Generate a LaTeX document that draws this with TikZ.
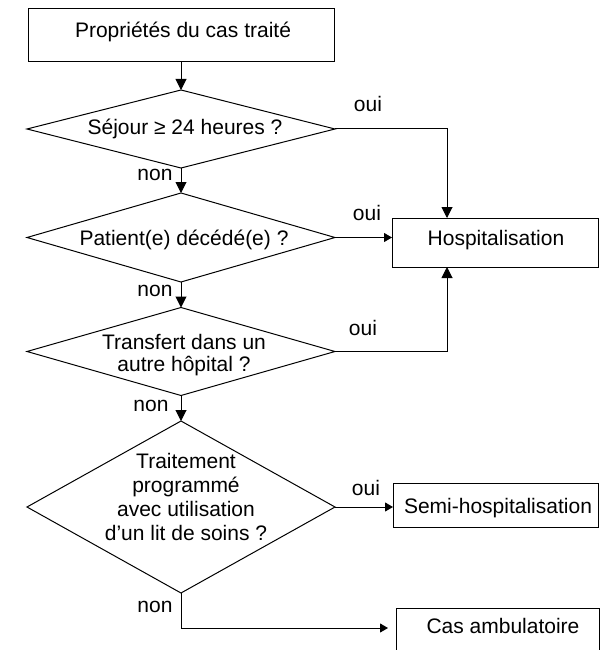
\documentclass[tikz,border=0pt]{standalone}
\usepackage{fontspec}
\setmainfont{Liberation Sans}
\usetikzlibrary{shapes.geometric,arrows.meta,calc}
\begin{document}
\begin{tikzpicture}[x=1pt,y=-1pt,
  txt/.style={font=\fontsize{21}{23.5}\selectfont, inner sep=0pt, outer sep=0pt},
  boxnode/.style={draw, line width=1pt, rectangle, inner sep=0pt, outer sep=0pt, anchor=north west},
  dia/.style={draw, line width=1pt, diamond, inner sep=0pt, outer sep=0pt},
  conn/.style={line width=1pt},
  arrV/.style={conn, -{Triangle[length=11pt,width=11pt]}},
  arrH/.style={conn, -{Triangle[length=8pt,width=9pt]}}]
\useasboundingbox (0,0) rectangle (608,650);
\clip (0,0) rectangle (608,650);
% boxes
\node[boxnode, minimum width=306pt, minimum height=53pt] (top) at (28,9) {};
\node[boxnode, minimum width=206pt, minimum height=49pt] (hosp) at (392,218) {};
\node[boxnode, minimum width=205pt, minimum height=44pt] (semi) at (393,483) {};
\node[boxnode, minimum width=203pt, minimum height=70pt] (cas) at (396,608) {};
% diamonds
\node[dia, minimum width=308pt, minimum height=78pt] (d1) at (181,129) {};
\node[dia, minimum width=308pt, minimum height=89pt] (d2) at (181,237.5) {};
\node[dia, minimum width=308pt, minimum height=88pt] (d3) at (181,351.5) {};
\node[dia, minimum width=308pt, minimum height=172pt] (d4) at (181,507) {};
% texts
\node[txt, anchor=base] (ttop) at (183,37.5) {Propriétés du cas traité};
\node[txt, anchor=base] (t1) at (185,135) {Séjour ≥ 24 heures ?};
\node[txt, anchor=base] (t2) at (184,245) {Patient(e) décédé(e) ?};
\node[txt, anchor=base] (thosp) at (496,245) {Hospitalisation};
\node[txt, anchor=north, align=center, font=\fontsize{21}{22}\selectfont] (t3) at (184,334.6) {Transfert dans un\\autre hôpital ?};
\node[txt, anchor=north, align=center, font=\fontsize{21}{24}\selectfont] (t4) at (186,453) {Traitement\\programmé\\avec utilisation\\d’un lit de soins ?};
\node[txt, anchor=base] (tsemi) at (498,513) {Semi-hospitalisation};
\node[txt, anchor=base] (tcas) at (503,633) {Cas ambulatoire};
% labels
\node[txt, anchor=base] (o1) at (368,112) {oui};
\node[txt, anchor=base] (o2) at (367,220) {oui};
\node[txt, anchor=base] (o3) at (363,335) {oui};
\node[txt, anchor=base] (o4) at (366,495) {oui};
\node[txt, anchor=base] (n1) at (155,180) {non};
\node[txt, anchor=base] (n2) at (155,296) {non};
\node[txt, anchor=base] (n3) at (151,411) {non};
\node[txt, anchor=base] (n4) at (155,612) {non};
% coordinates
\coordinate (h1) at (447,218);
\coordinate (h2) at (447,267);
\coordinate (c1) at (388,628);
% connectors
\draw[arrV] (top.south) -- (d1.north);
\draw[arrV] (d1.south) -- (d2.north);
\draw[arrV] (d2.south) -- (d3.north);
\draw[arrV] (d3.south) -- (d4.north);
\draw[arrV] (d1.east) -| (h1);
\draw[arrV] (d3.east) -| (h2);
\draw[arrH] (d2.east) -- (d2.east -| hosp.west);
\draw[arrH] (d4.east) -- (d4.east -| semi.west);
\draw[arrH] (d4.south) |- (c1);
\end{tikzpicture}
\end{document}
